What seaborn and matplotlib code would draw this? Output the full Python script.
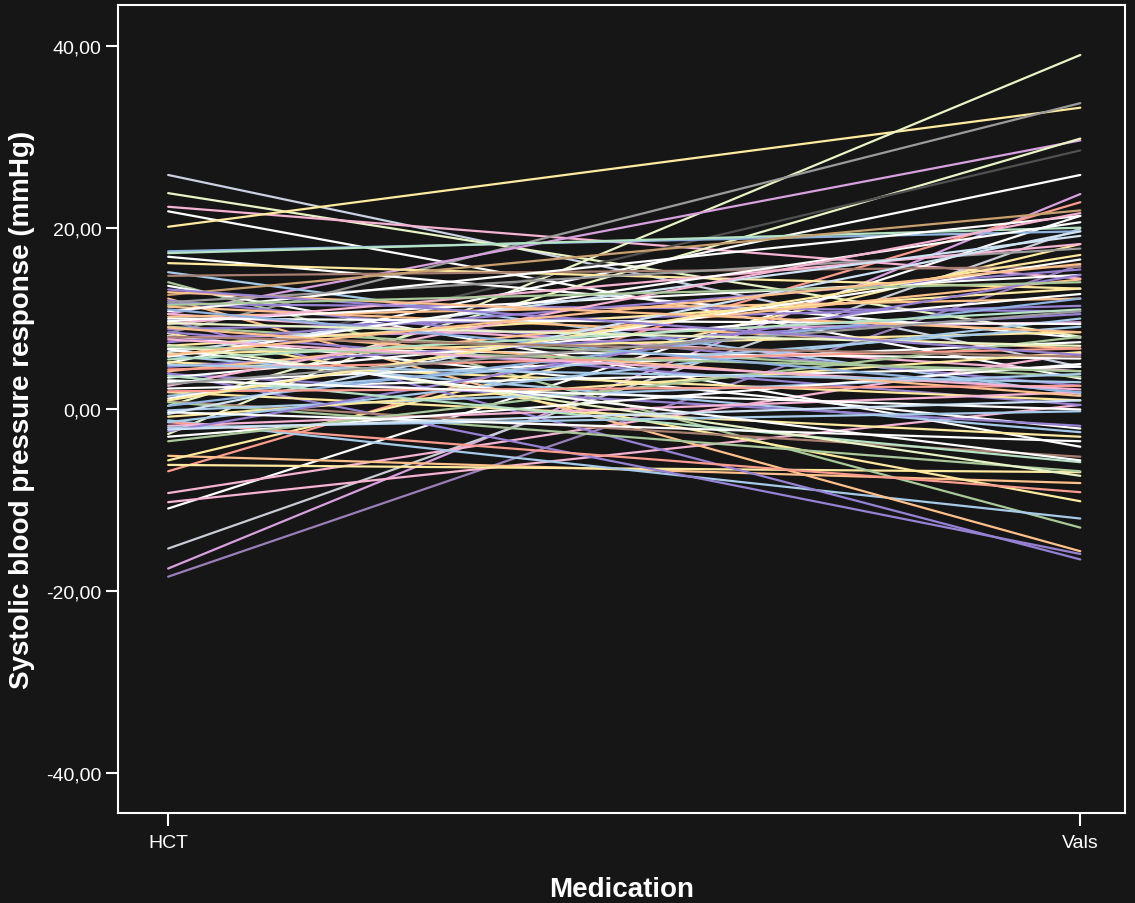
import numpy as np
import pandas as pd
import matplotlib
matplotlib.use("Agg")
import matplotlib.pyplot as plt
import seaborn as sns

# ---- data: systolic BP response per patient under each medication ----
medications = ["HCT", "Vals"]
hct = [25.8, 23.8, 22.3, 21.8, 20.1, -2.7, 8.4, 10.5, 0.4, 5.0, 5.1, -17.5, -18.4, -15.3,
       -10.9, -9.2, -10.2, -6.8, -5.1, -5.6, -6.1, 17.4, 17.2, 16.8, 16.1, 15.1, 14.7, 14.0,
       -1.2, 12.2, 4.0, 9.8, 8.4, -1.4, 0.9, 13.6,
       12.6, 12.0, 11.8, 11.6, 11.3, 10.8, 10.5, 10.2, 9.7, 9.4, 9.1, 8.8, 8.5, 8.1, 7.9,
       7.4, 7.0, 6.7, 6.3, 5.9, 6.1, 5.8, 5.2, 4.7, 4.2, 3.9, 3.5, 3.0, 2.6, 2.3, 1.9, 1.5,
       1.2, 0.8, 0.4, -0.1, -0.5, -0.8, -1.4, -1.8, -2.0, -2.4, -3.0, -3.5, 3.7, 7.1, 6.6,
       9.0, 2.0, 4.4, 6.9, 10.0, 11.0, 12.9, 1.0, 5.5, 8.0, 3.2, -0.3, 7.7, 4.9, 2.8, 9.5,
       13.2, 11.5, 6.0, -2.2]
vals = [4.7, 8.0, 14.4, 3.4, 33.2, 39.0, 33.7, 29.6, 29.8, 28.5, 25.8, 23.7, 15.9, 19.9,
        21.3, 6.2, 0.5, 22.8, -8.1, 18.2, -6.9, 19.6, 20.0, 7.9, 13.3, 1.7, 15.7, -13.0,
        -12.0, -15.6, -15.9, -16.5, -10.1, -9.1, -5.2, -4.1,
        21.9, 2.6, 17.7, 10.8, 6.7, 21.3, 4.2, 12.2, 14.8, 18.2, 3.6, 11.4, 0.5, -2.1, 9.6,
        15.4, 13.3, 5.6, 19.1, -2.5, 8.5, 20.6, 1.0, 10.5, 14.3, -1.8, 12.7, 7.4, 21.6, 4.7,
        -3.0, 9.1, 16.5, -6.8, 12.2, 3.9, 19.6, 6.3, 10.0, 1.9, -0.2, 14.8, 5.0, 8.0, -5.8,
        -7.3, -5.6, 1.5, 2.6, 6.7, 4.2, 9.4, 1.9, 8.5, 17.0, 11.0, 5.8, 0.0, -3.5, 2.2, 3.0,
        10.8, 7.0, 6.0, 14.0, 16.0, 1.0]
patients = [f"P{i + 1:03d}" for i in range(len(hct))]

# ---- style: one colour per patient line ----
W, LB, BL, PB = "#ffffff", "#a6cbea", "#8fb3e0", "#cfe3f5"
PK, OR, SA, PE = "#f6b3d3", "#d8a0df", "#fb9c8f", "#ffc08c"
YE, YG, GR, MG = "#ffeaa0", "#e8f3c6", "#a9c99a", "#b5e3c4"
PU, BR, GY, DG, TN = "#9781d3", "#a77e70", "#9b9b9b", "#505050", "#c8a070"
line_colors = ["#c9d1e3", YG, PK, W, YE, YG, GY, OR, YG, DG, W, OR, "#9a7fb8", "#c8ccd4",
               W, PK, PK, SA, PE, YE, YE, BL, MG, W, YE, LB, BR, GR,
               LB, PE, PU, PU, YE, SA, BR, W,
               TN, PU, GY, PU, PE, W, PK, PE, W, PK, GR, PU, PU, W, OR,
               PU, YE, W, PB, LB, YE, W, YE, PU, PE, PU, W, W, PK, W,
               YE, LB, W, GR, BL, LB, PB, YE, LB, PK, LB, PU, W, GR, MG, YG, W,
               PE, SA, SA, GR, W, BL, PE, YE, MG, BR, W, W, PK, LB, GY, YG,
               PU, GR, PE, PB]

n = len(hct)
df = pd.DataFrame({
    "patient": patients * 2,
    "Medication": [medications[0]] * n + [medications[1]] * n,
    "response": hct + vals,
})

BG = "#161616"
sns.set_theme(style="dark")
plt.rcParams["font.family"] = ["Liberation Sans", "DejaVu Sans"]

fig = plt.figure(figsize=(11.35, 9.04), dpi=100, facecolor=BG)
ax = fig.add_axes([118 / 1135, 1 - 814 / 904, (1125 - 118) / 1135, (814 - 6) / 904])
ax.set_facecolor(BG)

sns.lineplot(data=df, x="Medication", y="response", hue="patient",
             palette=line_colors, units=None, estimator=None, sort=False,
             legend=False, linewidth=1.6, ax=ax)

ax.set_xlim(-0.055, 1.049)
ax.set_ylim(-44.4, 44.5)
ax.set_xticks([0, 1])
ax.set_xticklabels(medications)
yt = [-40, -20, 0, 20, 40]
ax.set_yticks(yt)
ax.set_yticklabels([f"{v:.2f}".replace(".", ",") for v in yt])
ax.grid(False)

for s in ax.spines.values():
    s.set_visible(True)
    s.set_color("white")
    s.set_linewidth(1.5)

ax.tick_params(axis="both", colors="white", labelcolor="white", labelsize=14,
               length=9, width=1.5, direction="out", left=True, bottom=True)
ax.tick_params(axis="x", pad=6)
ax.tick_params(axis="y", pad=3)

ax.set_xlabel("Medication", color="white", fontsize=20, fontweight="bold", labelpad=18)
ax.set_ylabel("Systolic blood pressure response (mmHg)", color="white", fontsize=20,
              fontweight="bold", labelpad=8)

fig.savefig("out.png", dpi=100, facecolor=BG)
